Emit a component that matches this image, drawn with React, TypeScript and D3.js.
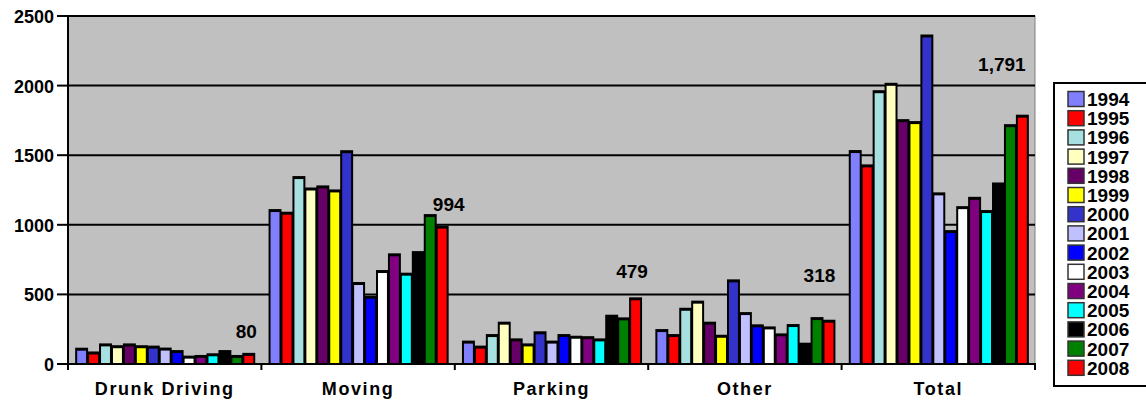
import React from 'react';
import * as d3 from 'd3';

const categories = ['Drunk Driving', 'Moving', 'Parking', 'Other', 'Total'];
const years = ['1994', '1995', '1996', '1997', '1998', '1999', '2000', '2001', '2002', '2003', '2004', '2005', '2006', '2007', '2008'];

// one row per category, one value per year
const drunkDriving = [117, 90, 148, 135, 148, 135, 132, 118, 100, 60, 65, 77, 100, 65, 80];
const moving = [1113, 1094, 1350, 1268, 1283, 1254, 1536, 589, 490, 675, 795, 656, 811, 1077, 994];
const parking = [168, 132, 215, 304, 184, 148, 235, 168, 215, 203, 200, 184, 354, 335, 479];
const other = [251, 215, 404, 455, 304, 210, 608, 373, 285, 270, 220, 287, 153, 337, 318];
const total = [1537, 1434, 1967, 2020, 1759, 1745, 2367, 1233, 962, 1134, 1201, 1106, 1304, 1723, 1791];

const seriesByCategory = [drunkDriving, moving, parking, other, total];
const labels2008 = ['80', '994', '479', '318', '1,791'];
const yTicks = [0, 500, 1000, 1500, 2000, 2500];

const colors = ['#8080ff', '#ff0000', '#a6e0e0', '#ffffc0', '#660066', '#ffff00', '#3333cc', '#c0c0ff', '#0000ff', '#ffffff', '#800080', '#00ffff', '#000000', '#008000', '#ff0000'];

// manual label placement (px) relative to the 2008 bar
const labelDx = [-2, 7, -3, -9, -20];
const labelLift = [15, 15, 19, 38, 44];

const FONT = '"Liberation Sans", Arial, sans-serif';

export default function App() {
  const W = 1146;
  const H = 403;
  const left = 68, right = 1035, top = 16, bottom = 364;

  const x0 = d3.scaleBand<string>().domain(categories).range([left, right]).padding(0);
  const y = d3.scaleLinear().domain([0, 2500]).range([bottom, top]);
  const gw = x0.bandwidth();
  const bw = gw / 16.2;
  const pad = (gw - bw * 15) / 2;

  return (
    <svg width={W} height={H} style={{ position: 'absolute', left: 0, top: 0, background: '#fff' }} fontFamily={FONT}>
      {/* plot area */}
      <rect x={left} y={top} width={right - left} height={bottom - top} fill="#c0c0c0" stroke="#808080" strokeWidth={1} />
      {yTicks.filter(t => t > 0).map(t => (
        <line key={t} x1={left} x2={right} y1={y(t)} y2={y(t)} stroke="#000" strokeWidth={2} />
      ))}

      {/* bars */}
      {categories.map((c, ci) => (
        <g key={c}>
          {seriesByCategory[ci].map((v, i) => {
            const bx = (x0(c) as number) + pad + i * bw;
            const by = y(v);
            const h = bottom - by;
            return (
              <g key={i}>
                <rect x={bx} y={by} width={bw + 1} height={h} fill="#000" />
                <rect x={bx + 2} y={Math.min(by + 3, bottom)} width={bw - 3} height={Math.max(h - 3, 0)} fill={colors[i]} />
              </g>
            );
          })}
          <text
            x={(x0(c) as number) + pad + 14.5 * bw + labelDx[ci]}
            y={y(seriesByCategory[ci][14]) - labelLift[ci]}
            textAnchor="middle" fontSize={19} fontWeight="bold" fill="#000"
          >{labels2008[ci]}</text>
        </g>
      ))}

      {/* axes */}
      <line x1={left} x2={left} y1={top} y2={bottom + 6} stroke="#000" strokeWidth={2} />
      <line x1={left} x2={right + 1} y1={bottom} y2={bottom} stroke="#000" strokeWidth={2} />
      {yTicks.map(t => (
        <g key={t}>
          <line x1={left - 11} x2={left} y1={y(t)} y2={y(t)} stroke="#000" strokeWidth={2} />
          <text x={54} y={y(t) + 7} textAnchor="end" fontSize={18} fontWeight="bold" fill="#000">{t}</text>
        </g>
      ))}
      {categories.map((c, ci) => (
        <g key={c}>
          <line x1={(x0(c) as number) + gw} x2={(x0(c) as number) + gw} y1={bottom} y2={bottom + 6} stroke="#000" strokeWidth={2} />
          <text x={(x0(c) as number) + gw / 2} y={395} textAnchor="middle" fontSize={18} fontWeight="bold" letterSpacing={1.6} fill="#000">{c}</text>
        </g>
      ))}

      {/* legend */}
      <rect x={1054} y={83} width={100} height={303} fill="#fff" stroke="#000" strokeWidth={2} />
      {years.map((yr, i) => {
        const cy = 99 + i * 19.2;
        return (
          <g key={yr}>
            <rect x={1068} y={cy - 7.5} width={16} height={15} fill={colors[i]} stroke="#333" strokeWidth={1.5} />
            <text x={1087} y={cy + 7} fontSize={19} fontWeight="bold" fill="#000">{yr}</text>
          </g>
        );
      })}
    </svg>
  );
}
